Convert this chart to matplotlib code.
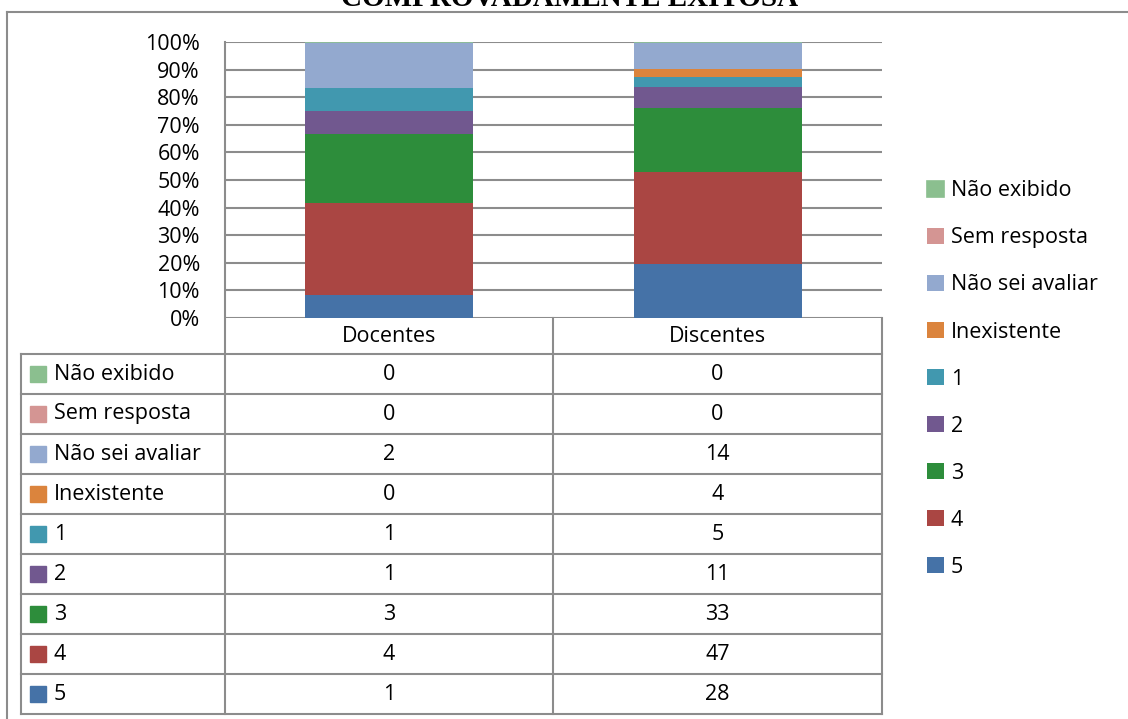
import matplotlib
matplotlib.use("Agg")
from matplotlib import pyplot as plt
from matplotlib.patches import Rectangle

# categories (bottom of the stack first)
series = ['5', '4', '3', '2', '1', 'Inexistente', 'Não sei avaliar', 'Sem resposta', 'Não exibido']
docentes = [1, 4, 3, 1, 1, 0, 2, 0, 0]
discentes = [28, 47, 33, 11, 5, 4, 14, 0, 0]
groups = ['Docentes', 'Discentes']
colors = ['#4572A7', '#AA4643', '#2D8D3B', '#71588F', '#4198AF',
          '#DB843D', '#93A9CF', '#D49593', '#8BBF8F']
yticks = [0, 10, 20, 30, 40, 50, 60, 70, 80, 90, 100]
title = 'COMPROVADAMENTE EXITOSA'

W, H = 1128, 719
FONT = 'Open Sans'
FS = 15.5
GRID = '#8C8C8C'

fig = plt.figure(figsize=(W / 100, H / 100), dpi=100)

# overlay in pixel coordinates for the frame and data table
ov = fig.add_axes([0, 0, 1, 1])
ov.set_xlim(0, W)
ov.set_ylim(H, 0)
ov.axis('off')

ov.text(570, 6, title, ha='center', va='baseline', fontsize=21,
        fontweight='bold', family='Liberation Serif')
ov.plot([7, W], [12, 12], color=GRID, lw=1.5)
ov.plot([7, 7], [12, H], color=GRID, lw=1.5)

# bar chart
left, right, y0, y100 = 225, 882, 318, 42
ax = fig.add_axes([left / W, 1 - y0 / H, (right - left) / W, (y0 - y100) / H])
data = [docentes, discentes]
totals = [sum(d) for d in data]
bottoms = [0.0, 0.0]
handles = []
for i, name in enumerate(series):
    vals = [data[g][i] / totals[g] * 100 for g in range(2)]
    b = ax.bar([0, 1], vals, width=0.51, bottom=bottoms, color=colors[i],
               edgecolor=colors[i] if name == 'Não exibido' else 'none',
               linewidth=1.2, label=name, zorder=3)
    handles.append(b)
    bottoms = [bottoms[g] + vals[g] for g in range(2)]

ax.set_xlim(-0.5, 1.5)
ax.set_ylim(0, 100)
ax.set_yticks(yticks)
ax.set_yticklabels([f'{t}%' for t in yticks], family=FONT, fontsize=FS)
ax.tick_params(axis='y', length=0, pad=18)
ax.set_xticks([])
for s in ax.spines.values():
    s.set_visible(False)
ax.yaxis.grid(True, color=GRID, lw=1.5, zorder=0)
ax.set_facecolor('none')

# data table under the chart
col_x = [left, 553, right]
tab_left = 21
row_top = 354
row_h = 40
nrows = len(series)
bottom = row_top + nrows * row_h

ov.plot([left, left], [y100, bottom], color=GRID, lw=1.5)
for x in col_x[1:]:
    ov.plot([x, x], [y0, bottom], color=GRID, lw=1.5)
ov.plot([tab_left, tab_left], [row_top, bottom], color=GRID, lw=1.5)
for r in range(nrows + 1):
    y = row_top + r * row_h
    ov.plot([tab_left, right], [y, y], color=GRID, lw=1.5)

for g, name in enumerate(groups):
    cx = (col_x[g] + col_x[g + 1]) / 2
    ov.text(cx, (y0 + row_top) / 2 + 1, name, ha='center', va='center',
            family=FONT, fontsize=FS)

for r, i in enumerate(reversed(range(nrows))):
    cy = row_top + r * row_h + row_h / 2
    ov.add_patch(Rectangle((30, cy - 8), 16, 16, color=colors[i]))
    ov.text(54, cy, series[i], ha='left', va='center', family=FONT, fontsize=FS)
    for g in range(2):
        cx = (col_x[g] + col_x[g + 1]) / 2
        ov.text(cx, cy, str(data[g][i]), ha='center', va='center',
                family=FONT, fontsize=FS)

leg = ax.legend(handles[::-1], series[::-1], loc='upper left',
                bbox_to_anchor=(908 / W, 1 - 161 / H), bbox_transform=fig.transFigure,
                frameon=False, prop={'family': FONT, 'size': FS},
                handlelength=0.78, handleheight=0.78, handletextpad=0.3,
                labelspacing=1.21)

fig.savefig('out.png', dpi=100)
